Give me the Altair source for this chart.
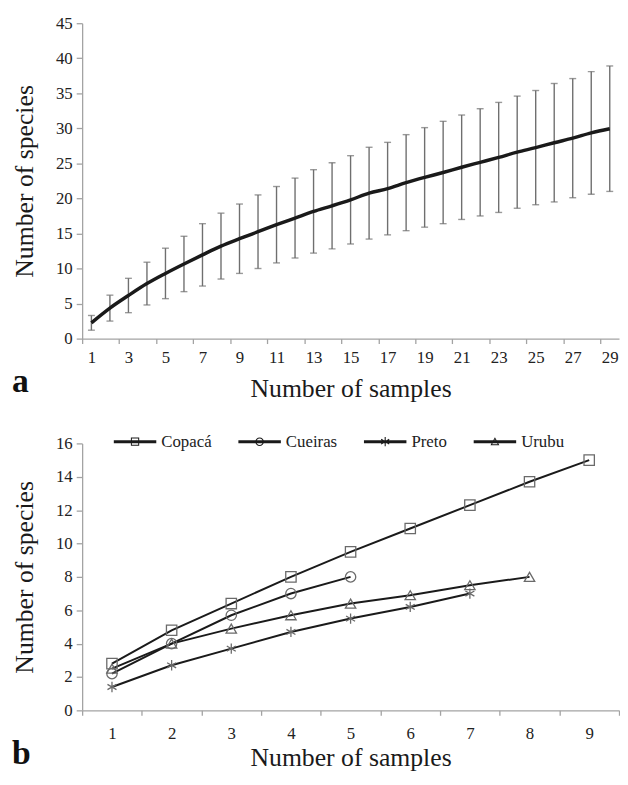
import altair as alt
import pandas as pd

# ---------------- data ----------------
# panel a: species accumulation (mean +/- sd)
samples_a = list(range(1, 30))
mean_a = [2.25, 4.35, 6.15, 7.85, 9.3, 10.65, 11.95, 13.2, 14.25, 15.25,
          16.25, 17.2, 18.15, 18.95, 19.8, 20.75, 21.4, 22.25, 23.0, 23.7,
          24.45, 25.15, 25.85, 26.6, 27.25, 27.95, 28.6, 29.35, 29.95]
sd_a = [1.05, 1.85, 2.45, 3.05, 3.6, 3.95, 4.45, 4.7, 4.95, 5.25,
        5.45, 5.7, 5.95, 6.15, 6.3, 6.55, 6.6, 6.85, 7.1, 7.3,
        7.45, 7.65, 7.85, 8.0, 8.15, 8.45, 8.5, 8.75, 8.95]

# panel b: per-site curves
sites = ["Copacá", "Cueiras", "Preto", "Urubu"]
copaca = [2.8, 4.8, 6.4, 8.0, 9.5, 10.9, 12.3, 13.7, 15.0]
cueiras = [2.2, 4.0, 5.7, 7.0, 8.0]
preto = [1.4, 2.7, 3.7, 4.7, 5.5, 6.2, 7.0]
urubu = [2.5, 4.0, 4.9, 5.7, 6.4, 6.9, 7.5, 8.0]

x_labels_a = list(range(1, 30, 2))
x_labels_b = list(range(1, 10))
y_ticks_a = list(range(0, 46, 5))
y_ticks_b = list(range(0, 17, 2))

# ---------------- tables ----------------
df_a = pd.DataFrame({"n": samples_a, "mean": mean_a, "sd": sd_a})
df_a["lo"] = df_a["mean"] - df_a["sd"]
df_a["hi"] = df_a["mean"] + df_a["sd"]

rows = []
for site, vals in zip(sites, [copaca, cueiras, preto, urubu]):
    for i, v in enumerate(vals, start=1):
        rows.append({"site": site, "site_m": site, "n": i, "s": v})
df_b = pd.DataFrame(rows)

xt_a = sorted([v - 0.5 for v in x_labels_a] + x_labels_a)
xt_b = sorted([v - 0.5 for v in x_labels_b] + [x_labels_b[-1] + 0.5] + x_labels_b)

FONT = "Liberation Serif"
AX = "#a3a3a3"
INK = "#1a1a1a"
BAR = "#6f6f6f"
MK = "#6a6a6a"
LBL = "#222222"


def x_axis(values, label_pad, title_pad):
    return alt.Axis(
        values=values,
        title="Number of samples",
        labelExpr="datum.value % 1 === 0 ? format(datum.value, 'd') : ''",
        tickOpacity={"condition": {"test": "datum.value % 1 !== 0", "value": 1}, "value": 0},
        labelOverlap=False, labelFlush=False,
        tickSize=5, labelPadding=label_pad, titlePadding=title_pad,
        labelFont=FONT, labelFontSize=17, labelColor=LBL,
        titleFont=FONT, titleFontSize=26, titleFontWeight="normal", titleColor=INK,
        domainColor=AX, tickColor=AX, domainWidth=1.3, tickWidth=1.3, grid=False,
    )


def y_axis(values):
    return alt.Axis(
        values=values, title="Number of species", tickSize=6,
        labelPadding=4, titlePadding=18, labelOverlap=False,
        labelFont=FONT, labelFontSize=17, labelColor=LBL,
        titleFont=FONT, titleFontSize=26, titleFontWeight="normal", titleColor=INK,
        domainColor=AX, tickColor=AX, domainWidth=1.3, tickWidth=1.3, grid=False,
    )


# ---------------- panel a ----------------
sx_a = alt.Scale(domain=[0.5, 29.5], nice=False, zero=False)
sy_a = alt.Scale(domain=[0, 45], nice=False)
xa = alt.X("n:Q", scale=sx_a, axis=x_axis(xt_a, 6.5, 10))
ax_ya = y_axis(y_ticks_a)

base_a = alt.Chart(df_a)
bars = base_a.mark_rule(color=BAR, strokeWidth=1.4).encode(
    x=xa, y=alt.Y("lo:Q", scale=sy_a, axis=ax_ya), y2="hi:Q")
cap_lo = base_a.mark_tick(orient="horizontal", size=7, thickness=1.4, color=BAR).encode(
    x=xa, y=alt.Y("lo:Q", scale=sy_a, axis=ax_ya))
cap_hi = base_a.mark_tick(orient="horizontal", size=7, thickness=1.4, color=BAR).encode(
    x=xa, y=alt.Y("hi:Q", scale=sy_a, axis=ax_ya))
curve = base_a.mark_line(color=INK, strokeWidth=3.5, interpolate="monotone").encode(
    x=xa, y=alt.Y("mean:Q", scale=sy_a, axis=ax_ya))

panel_a = alt.layer(bars, cap_lo, cap_hi, curve).properties(
    width=543, height=319,
    title=alt.TitleParams("a", orient="bottom", anchor="start", frame="bounds",
                          fontSize=34, fontWeight="bold", font=FONT, color="#111111",
                          offset=-36),
)

# ---------------- panel b ----------------
xb = alt.X("n:Q", scale=alt.Scale(domain=[0.5, 9.5], nice=False, zero=False),
           axis=x_axis(xt_b, 10, 4))
yb = alt.Y("s:Q", scale=alt.Scale(domain=[0, 16], nice=False), axis=y_axis(y_ticks_b))

ast = "M0,-1V1M-0.87,-0.5L0.87,0.5M-0.87,0.5L0.87,-0.5"
# legend symbols drawn with fill only: a bar for the line + ring-shaped markers
bar = "M-3.58,-0.25H3.58V0.25H-3.58Z"
leg_shapes = [
    bar + "M-0.7,-0.7H0.7V0.7H-0.7ZM-0.53,-0.53V0.53H0.53V-0.53Z",
    bar + "M0.72,0A0.72,0.72,0,1,1,-0.72,0A0.72,0.72,0,1,1,0.72,0Z"
          "M0.55,0A0.55,0.55,0,1,0,-0.55,0A0.55,0.55,0,1,0,0.55,0Z",
    bar + "M-0.09,-0.78H0.09V0.78H-0.09Z"
          "M-0.727,-0.3435L-0.633,-0.4965L0.727,0.3435L0.633,0.4965Z"
          "M-0.727,0.3435L0.633,-0.4965L0.727,-0.3435L-0.633,0.4965Z",
    bar + "M0,-0.75L0.75,0.6H-0.75Z"
          "M0,-0.41L-0.465,0.43H0.465Z",
]

base_b = alt.Chart(df_b)
lines_b = base_b.mark_line(strokeWidth=2, color=INK).encode(x=xb, y=yb, detail="site:N")
points_b = base_b.mark_point(filled=False, color=MK, strokeWidth=1.3, size=110, opacity=1).encode(
    x=xb, y=yb,
    shape=alt.Shape("site:N", scale=alt.Scale(range=["square", "circle", ast, "triangle-up"]),
                    legend=None),
)
legend_b = base_b.mark_point(filled=True, fill=INK, size=0, opacity=1).encode(
    x=xb, y=yb,
    shape=alt.Shape("site_m:N", scale=alt.Scale(range=leg_shapes),
                    legend=alt.Legend(orient="none", legendX=32, legendY=-10.5,
                                      direction="horizontal", title=None,
                                      symbolSize=144, symbolOffset=13, labelOffset=18,
                                      columnPadding=27, padding=0,
                                      symbolStrokeWidth=0, symbolFillColor=INK,
                                      symbolOpacity=1,
                                      labelFont=FONT, labelFontSize=17, labelColor=LBL)),
)

panel_b = alt.layer(lines_b, points_b, legend_b).resolve_scale(shape="independent").properties(
    width=543, height=270,
    title=alt.TitleParams("b", orient="bottom", anchor="start", frame="bounds",
                          fontSize=34, fontWeight="bold", font=FONT, color="#111111",
                          offset=-34),
)

chart = alt.vconcat(panel_a, panel_b, spacing=31).resolve_scale(
    shape="independent"
).properties(
    padding={"left": 4, "top": 2, "right": 0, "bottom": 0}
).configure_view(stroke=None)

chart.save("out.html", embed_options={"renderer": "svg", "actions": False})
